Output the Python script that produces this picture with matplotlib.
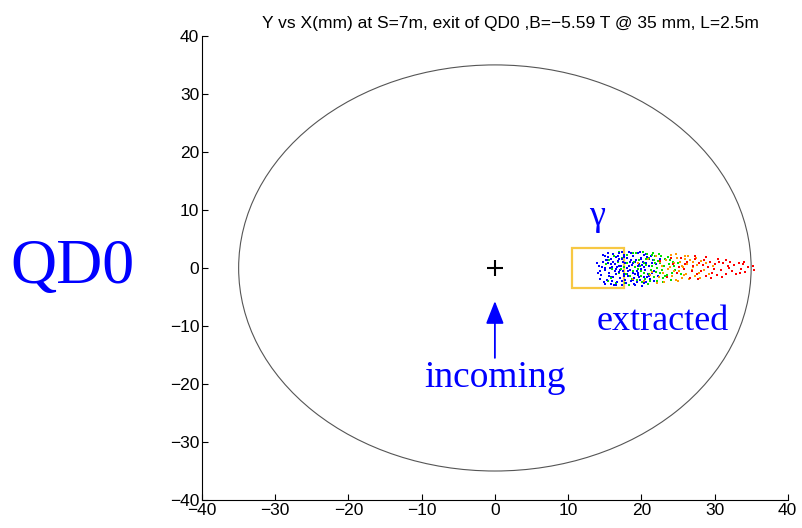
import numpy as np
import matplotlib
matplotlib.use("Agg")
import matplotlib.pyplot as plt
from matplotlib.patches import Circle, Rectangle

plt.rcParams["font.family"] = ["Liberation Sans", "DejaVu Sans"]
SERIF = ["Liberation Serif", "DejaVu Serif"]

TITLE = "Y vs X(mm) at S=7m, exit of QD0 ,B=\u22125.59 T @ 35 mm, L=2.5m"
APERTURE_R = 35.0                 # mm, beam-pipe radius at QD0 exit
GAMMA_BOX = (10.5, -3.5, 7.2, 7.0)  # x0, y0, width, height (mm)
TICKS = [-40, -30, -20, -10, 0, 10, 20, 30, 40]

# tracked particles by energy band (mm)
blue_x = [14.2, 14.5, 14.8, 15.0, 15.1, 15.3, 15.5, 15.6, 15.8, 15.9, 16.0, 16.1, 16.2, 16.4,
          16.5, 16.6, 16.7, 16.8, 16.9, 17.0, 17.1, 17.2, 17.3, 17.4, 17.5, 17.6, 17.7, 17.8,
          17.9, 18.0, 18.1, 18.2, 18.3, 18.4, 18.5, 18.6, 18.7, 18.8, 18.9, 19.0, 19.1, 19.2,
          19.3, 19.4, 19.5, 19.6, 19.7, 19.8, 19.9, 20.0, 20.1, 20.2, 20.3, 20.4, 20.5, 20.6,
          20.7, 20.8, 20.9, 21.0, 21.2, 21.3, 21.5, 21.6, 21.8, 22.0, 22.3, 22.6, 14.9, 15.4,
          15.7, 16.3, 16.9, 17.5, 18.2, 18.6, 19.1, 19.6, 20.3, 14.3, 15.2, 16.6, 17.8, 19.4,
          20.8, 13.9, 14.6, 15.9,
          14.4, 14.7, 15.0, 15.3, 15.6, 15.9, 16.2, 16.5, 16.8, 17.1, 17.4, 17.7, 18.0, 18.3,
          18.6, 18.9, 19.2, 19.5, 19.8, 20.1, 20.4, 20.7, 21.0, 21.4, 21.7, 14.1, 15.1, 16.0,
          17.0, 18.0, 19.0, 20.0, 16.4, 17.6, 18.8, 15.5, 16.7, 19.7, 21.1, 17.3]
blue_y = [0.3, -1.2, 1.1, -0.4, 2.0, -2.1, 0.8, -0.9, 1.6, -2.8, 0.1, 2.4, -1.5, 0.6,
          -0.2, 1.9, -2.4, 1.2, -0.7, 2.6, -1.8, 0.4, -3.0, 1.5, -0.5, 2.2, -1.1, 0.9,
          -2.6, 0.0, 1.8, -1.4, 2.7, -0.3, 1.0, -2.2, 0.5, -0.9, 2.1, -1.7, 0.2, -2.9,
          1.4, -0.6, 2.5, -1.2, 0.7, -2.0, 1.7, -0.1, -3.1, 1.1, -1.6, 2.3, -0.4, 0.9,
          -2.5, 1.9, -1.0, 0.3, -1.9, 2.0, -0.8, 1.3, -2.3, 0.6, -1.3, 1.6, -2.5, 2.6,
          0.0, -3.0, 0.3, 1.0, -0.5, 1.3, -1.0, 0.4, 0.1, -0.6, 1.3, -1.0, -2.0, -2.4,
          -1.6, 0.8, 0.2, -1.6,
          -1.9, 2.2, -2.7, 1.4, -1.4, 0.6, 1.0, -2.9, 2.1, -0.3, -2.2, 1.9, -1.0, 0.4,
          2.6, -2.0, 1.1, -0.8, 2.8, 0.5, -2.6, 2.4, -1.3, 0.9, -0.6, -0.9, 0.0, -2.2,
          1.6, 2.3, -2.7, 1.5, -0.5, -1.4, 0.8, 1.9, 0.2, -1.5, 1.6, 2.8]

green_x = [15.2, 15.8, 16.3, 16.9, 17.4, 17.8, 18.1, 18.5, 18.8, 19.1, 19.4, 19.7, 20.0, 20.2,
           20.5, 20.7, 20.9, 21.1, 21.3, 21.5, 21.7, 21.9, 22.1, 22.3, 22.5, 22.7, 22.9, 23.1,
           23.3, 23.5, 23.8, 24.0, 24.3, 24.6, 25.0, 25.4, 16.0, 17.0, 18.3, 19.0, 19.9, 20.4,
           21.0, 21.8, 22.2, 22.8, 23.6, 17.6, 20.8, 23.0, 18.9, 21.4, 15.5, 24.2, 22.4, 20.1,
           15.6, 16.5, 17.2, 18.0, 18.7, 19.3, 19.8, 20.3, 20.6, 21.2, 21.6, 22.0, 22.6, 23.2,
           23.9, 24.5, 17.9, 19.5, 21.9, 16.8]
green_y = [0.6, -1.8, 2.1, -0.8, 1.7, -2.6, 0.9, -1.3, 2.5, 0.1, -2.1, 1.4, -0.6, 2.8,
           -1.9, 0.5, -2.8, 1.8, -0.3, 2.2, -1.5, 0.8, -2.3, 1.2, -0.9, 2.0, -1.8, 0.3,
           1.5, -1.2, 0.6, -2.0, 1.0, -0.4, 0.9, -1.0, -0.2, 2.8, -2.9, 1.1, -1.4, 0.9,
           -1.0, 1.4, 0.0, -0.4, 1.9, 0.2, 2.4, -2.5, -0.5, 0.4, -2.3, -0.9, 2.4, -2.5,
           1.3, -2.6, -0.1, 2.3, -1.9, 2.6, 0.4, -0.9, 1.6, -2.2, 2.6, -0.7, 0.8, -1.4,
           1.3, 0.3, -1.1, -0.2, 2.1, 1.0]

orange_x = [18.8, 19.5, 20.3, 20.9, 21.5, 22.0, 22.4, 22.8, 23.1, 23.4, 23.7, 24.0, 24.2, 24.5,
            24.7, 24.9, 25.1, 25.3, 25.5, 25.7, 25.9, 26.1, 26.3, 26.5, 26.7, 26.9, 27.1, 27.3,
            27.6, 27.9, 28.2, 28.5, 28.9, 29.3, 29.8, 23.9, 25.0, 26.0, 24.4, 25.6, 22.6, 21.2,
            27.0, 26.4, 28.0, 23.0, 24.8, 25.8, 27.5, 22.1]
orange_y = [-1.9, 0.9, -2.3, 1.6, -0.7, 2.0, -1.6, 0.4, -2.4, 1.3, -0.2, 2.2, -1.4, 0.8,
            -2.0, 1.7, -0.6, 1.0, -1.7, 0.2, 2.0, -1.0, 0.6, -1.9, 1.4, -0.3, 1.1, -1.4,
            0.5, -0.8, 1.2, -0.4, 0.8, -1.1, 0.3, 0.1, -2.3, 1.6, -0.5, 0.4, 1.0, -1.2,
            0.2, 2.1, -1.8, -0.9, 2.4, -1.2, 1.8, -2.6]

red_x = [22.6, 23.5, 24.3, 24.9, 25.4, 25.8, 26.2, 26.6, 27.0, 27.3, 27.6, 27.9, 28.2, 28.5,
         28.8, 29.1, 29.4, 29.7, 30.0, 30.3, 30.6, 30.9, 31.2, 31.5, 31.8, 32.1, 32.4, 32.7,
         33.0, 33.3, 33.6, 33.9, 34.2, 34.6, 35.2, 35.4, 26.0, 27.8, 28.9, 29.9, 31.0, 32.0,
         30.5, 26.9, 25.1, 28.4, 29.5, 31.6, 33.5, 34.0, 24.0, 27.4]
red_y = [1.2, -1.6, 0.6, -0.9, 1.8, -0.2, 1.0, -1.8, 0.4, 1.6, -1.1, 0.9, -0.5, 1.3,
         -1.4, 0.2, 1.0, -0.8, 0.6, -1.2, 1.1, -0.3, 0.8, -1.0, 0.3, 1.0, -0.6, 0.5,
         -1.1, 0.9, -0.2, 0.6, -0.7, 0.1, 0.4, -0.3, 0.7, -1.9, 1.9, -0.2, -1.6, 0.0,
         1.5, -0.6, 0.2, 0.5, -1.7, 1.4, -0.8, 1.1, 1.8, 2.0]

fig = plt.figure(figsize=(8.03, 5.28), dpi=100)
ax = fig.add_axes([0.2516, 0.053, 0.7294, 0.879])

ax.add_patch(Circle((0, 0), APERTURE_R, fill=False, edgecolor="#555555", lw=0.8))
ax.add_patch(Rectangle(GAMMA_BOX[:2], GAMMA_BOX[2], GAMMA_BOX[3], fill=False,
                       edgecolor="#f7c843", lw=1.6, zorder=3))

for xs, ys, col in [(blue_x, blue_y, "#0000ff"), (green_x, green_y, "#00e000"),
                    (orange_x, orange_y, "#ff9900"), (red_x, red_y, "#ff0000")]:
    ax.plot(xs, ys, "s", ms=2.0, mew=0, color=col, zorder=4)
# blue core drawn on top again so it dominates the front of the fan
ax.plot(blue_x[:40], blue_y[:40], "s", ms=2.0, mew=0, color="#0000ff", zorder=5)

ax.plot([0], [0], "+", color="black", ms=11, mew=1.5)
ax.annotate("", xy=(0, -5.7), xytext=(0, -15.5),
            arrowprops=dict(arrowstyle="-|>,head_length=1.4,head_width=0.55",
                            color="#0000ff", lw=1.3, shrinkA=0, shrinkB=0))

ax.text(0, -19.0, "incoming", ha="center", va="center", fontsize=27,
        color="#0000ff", family=SERIF)
ax.text(22.9, -9.3, "extracted", ha="center", va="center", fontsize=26,
        color="#0000ff", family=SERIF)
ax.text(14.0, 8.9, "\u03b3", ha="center", va="center", fontsize=26,
        color="#0000ff", family=SERIF)
fig.text(0.09, 0.492, "QD0", ha="center", va="center", fontsize=46,
         color="#0000ff", family=SERIF)

ax.set_xlim(-40, 40)
ax.set_ylim(-40, 40)
ax.set_xticks(TICKS)
ax.set_yticks(TICKS)
ax.tick_params(direction="in", length=4, width=0.8, labelsize=12.5, pad=2)
for sp in ("top", "right"):
    ax.spines[sp].set_visible(False)
for sp in ("left", "bottom"):
    ax.spines[sp].set_linewidth(0.8)
ax.set_title(TITLE, fontsize=12.5, pad=6, x=0.526)

fig.savefig("out.png", dpi=100)
